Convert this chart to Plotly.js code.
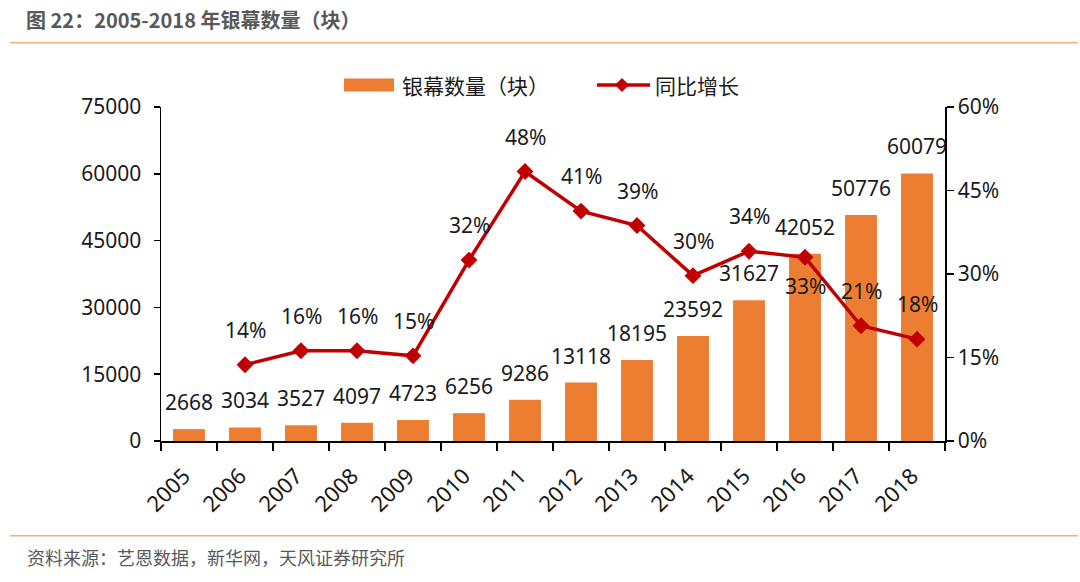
<!DOCTYPE html>
<html><head><meta charset="utf-8">
<script src="https://cdn.plot.ly/plotly-3.0.1.min.js"></script>
<style>html,body{margin:0;padding:0;background:#fff;}#chart{width:1080px;height:582px;}</style>
</head><body><div id="chart"></div>
<script>
const years = ['2005','2006','2007','2008','2009','2010','2011','2012','2013','2014','2015','2016','2017','2018'];
const screens = [2668,3034,3527,4097,4723,6256,9286,13118,18195,23592,31627,42052,50776,60079];
const growthYears = ['2006','2007','2008','2009','2010','2011','2012','2013','2014','2015','2016','2017','2018'];
const growth = [0.137,0.162,0.162,0.153,0.325,0.484,0.413,0.387,0.297,0.341,0.330,0.207,0.183];
const growthLabels = ['14%','16%','16%','15%','32%','48%','41%','39%','30%','34%','33%','21%','18%'];
const titleText = '图 22：2005-2018 年银幕数量（块）';
const sourceText = '资料来源：艺恩数据，新华网，天风证券研究所';
const barName = '银幕数量（块）';
const lineName = '同比增长';

const FONT = '"Noto Sans", "Noto Sans CJK SC", sans-serif';
const CJK = '"Noto Sans CJK SC", "Noto Sans", sans-serif';
const BAR = '#ED7D31', LINE = '#C00000', RULE = '#F2B27A';

const L = 161, R = 945, T = 107, B = 441;
const W = R - L, H = B - T;
const px = x => (x - L) / W;
const py = y => (B - y) / H;

const traces = [
  {type:'bar', x:years, y:screens, name:barName, marker:{color:BAR}, yaxis:'y', hoverinfo:'skip', showlegend:false},
  {type:'scatter', mode:'lines+markers', x:growthYears, y:growth, name:lineName, yaxis:'y2',
   line:{color:LINE, width:3.5}, marker:{symbol:'diamond', size:13, color:LINE}, hoverinfo:'skip', showlegend:false}
];

const annotations = [];
years.forEach((yr,i)=>{
  annotations.push({x:years.indexOf(yr), y:screens[i], xref:'x', yref:'y', text:String(screens[i]), showarrow:false,
    yanchor:'middle', yshift:27, font:{family:FONT, size:21, color:'#1a1a1a'}});
});
growthYears.forEach((yr,i)=>{
  const below = yr === '2016';
  annotations.push({x:years.indexOf(yr), y:growth[i], xref:'x', yref:'y2', text:growthLabels[i], showarrow:false,
    yanchor:'middle', yshift: below ? -29 : 35, font:{family:FONT, size:21, color:'#1a1a1a'}});
});
annotations.push({xref:'paper', yref:'paper', x:px(400), y:py(85), xanchor:'left', yanchor:'middle',
  text:barName, showarrow:false, font:{family:CJK, size:21, color:'#1a1a1a'}});
annotations.push({xref:'paper', yref:'paper', x:px(653), y:py(85), xanchor:'left', yanchor:'middle',
  text:lineName, showarrow:false, font:{family:CJK, size:21, color:'#1a1a1a'}});
annotations.push({xref:'paper', yref:'paper', x:px(25), y:py(557), xanchor:'left', yanchor:'middle',
  text:sourceText, showarrow:false, font:{family:CJK, size:18, color:'#595959'}});

const dy = py(85);
const shapes = [
  {type:'line', xref:'paper', yref:'paper', x0:px(10), x1:px(1078), y0:py(42.7), y1:py(42.7), line:{color:RULE, width:1.5}},
  {type:'line', xref:'paper', yref:'paper', x0:px(10), x1:px(1078), y0:py(535.7), y1:py(535.7), line:{color:RULE, width:1.5}},
  {type:'rect', xref:'paper', yref:'paper', x0:px(344), x1:px(394), y0:py(91.5), y1:py(78.5), fillcolor:BAR, line:{width:0}},
  {type:'line', xref:'paper', yref:'paper', x0:px(597), x1:px(650), y0:dy, y1:dy, line:{color:LINE, width:3.5}},
  {type:'path', xref:'paper', yref:'paper',
   path:`M ${px(622)} ${py(78)} L ${px(629)} ${py(85)} L ${px(622)} ${py(92)} L ${px(615)} ${py(85)} Z`,
   fillcolor:LINE, line:{width:0}}
];

const layout = {
  width:1080, height:582,
  margin:{l:L, r:1080-R, t:T, b:582-B, pad:0},
  paper_bgcolor:'#fff', plot_bgcolor:'#fff',
  font:{family:FONT, size:20, color:'#1a1a1a'},
  title:{text:'<b>'+titleText+'</b>', xref:'container', yref:'container', x:26/1080, xanchor:'left',
         y:1-21/582, yanchor:'middle', font:{family:CJK, size:20, color:'#595959'}},
  bargap:0.43,
  showlegend:false,
  xaxis:{type:'category', range:[-0.5, years.length-0.5], autorange:false, tickson:'boundaries', ticks:'outside', ticklen:8, tickcolor:'#000', tickwidth:1.5,
         showline:true, linecolor:'#000', linewidth:1.5, tickangle:-45, showgrid:false, ticklabelstandoff:12, ticklabelshift:-5,
         tickfont:{family:FONT, size:22, color:'#1a1a1a'}},
  yaxis:{range:[0,75000], autorange:false, dtick:15000, tick0:0, tickformat:'d', ticks:'outside', ticklen:6, tickcolor:'#000', tickwidth:1.5,
         showline:true, linecolor:'#000', linewidth:1.5, showgrid:false, zeroline:false,
         tickfont:{family:FONT, size:21, color:'#1a1a1a'}, ticklabelstandoff:8},
  yaxis2:{range:[0,0.6], autorange:false, dtick:0.15, tick0:0, tickformat:'.0%', overlaying:'y', side:'right',
          ticks:'outside', ticklen:7, tickcolor:'#000', tickwidth:1.5,
          showline:true, linecolor:'#000', linewidth:1.5, showgrid:false, zeroline:false,
          tickfont:{family:FONT, size:21, color:'#1a1a1a'}},
  annotations:annotations,
  shapes:shapes
};

Plotly.newPlot('chart', traces, layout, {displayModeBar:false, staticPlot:true});
</script></body></html>
